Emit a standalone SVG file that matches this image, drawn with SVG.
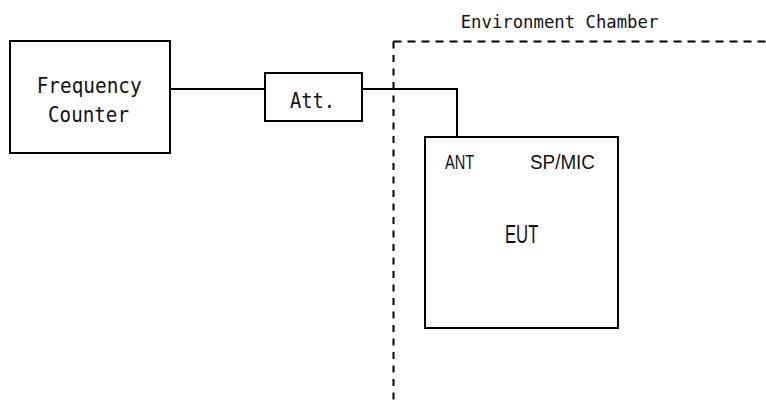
<svg xmlns="http://www.w3.org/2000/svg" width="766" height="404" viewBox="0 0 766 404">
<style>
.box{fill:#fff;stroke:#000;stroke-width:2}
.wire{fill:none;stroke:#000;stroke-width:2}
.dash{fill:none;stroke:#000;stroke-width:2}
.mono{font-family:"DejaVu Sans Mono","Liberation Mono",monospace;fill:#111}
.sans{font-family:"Liberation Sans","DejaVu Sans",sans-serif;fill:#111}
</style>
<rect width="766" height="404" fill="#fff"/>
<g id="chamber">
<path class="dash" d="M393.5,41.5 H766" stroke-dasharray="8 6"/>
<path class="dash" d="M393.5,41.5 V404" stroke-dasharray="7 6.5"/>
<text class="mono" x="460.7" y="27.7" font-size="18.5" textLength="197.6" lengthAdjust="spacingAndGlyphs">Environment Chamber</text>
</g>
<g id="connectors">
<path class="wire" d="M170,89 H265"/>
<path class="wire" d="M362,89 H457 V137"/>
</g>
<g id="freq-counter">
<rect class="box" x="10" y="41" width="160" height="112"/>
<text class="mono" x="36.7" y="93.3" font-size="21" textLength="105" lengthAdjust="spacingAndGlyphs">Frequency</text>
<text class="mono" x="48" y="121.7" font-size="21" textLength="81" lengthAdjust="spacingAndGlyphs">Counter</text>
</g>
<g id="att">
<rect class="box" x="265" y="73" width="97" height="48"/>
<text class="mono" x="290" y="108" font-size="22" textLength="45" lengthAdjust="spacingAndGlyphs">Att.</text>
</g>
<g id="eut">
<rect class="box" x="425" y="137" width="193" height="191"/>
<text class="sans" x="445" y="169.3" font-size="19.5" textLength="29.3" lengthAdjust="spacingAndGlyphs">ANT</text>
<text class="sans" x="530" y="169.3" font-size="19.5" textLength="65" lengthAdjust="spacingAndGlyphs">SP/MIC</text>
<text class="sans" x="505" y="243.3" font-size="25" textLength="33.3" lengthAdjust="spacingAndGlyphs">EUT</text>
</g>
</svg>
